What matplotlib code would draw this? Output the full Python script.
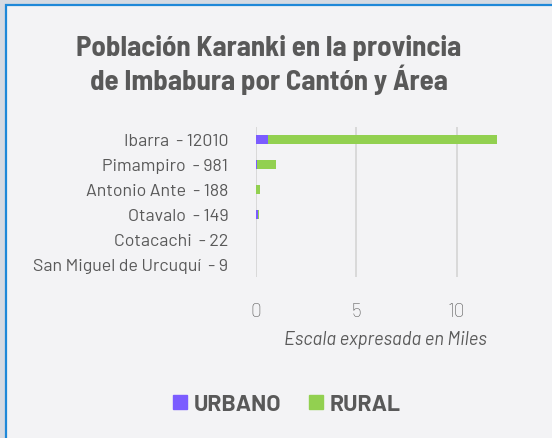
import matplotlib
matplotlib.use('Agg')
import matplotlib.pyplot as plt
from matplotlib.patches import Patch, Rectangle

# Datos (en miles de habitantes)
cantones = ['Ibarra', 'Pimampiro', 'Antonio Ante', 'Otavalo', 'Cotacachi', 'San Miguel de Urcuquí']
totales = [12010, 981, 188, 149, 22, 9]
urbano = [0.62, 0.03, 0.02, 0.08, 0.0, 0.009]
rural = [11.39, 0.951, 0.168, 0.069, 0.022, 0.0]
ticks_x = [0, 5, 10]

c_urb = '#7b5cff'
c_rur = '#92d050'
c_txt = '#595959'

W, H = 552, 439
fig = plt.figure(figsize=(W / 100, H / 100), dpi=100, facecolor='#d5dae2')

# Panel del gráfico con borde azul
fig.patches.append(Rectangle((6 / W, -0.1), 1.2, 1 - 6 / H + 0.1, transform=fig.transFigure,
                             facecolor='#f3f3f5', edgecolor='#1e88d8', linewidth=1.6, zorder=-5))

fig.text(269 / W, 1 - 65 / H, 'Población Karanki en la provincia\nde Imbabura por Cantón y Área',
         ha='center', va='center', fontsize=20.8, fontweight='bold', color=c_txt,
         family='Barlow Semi Condensed', linespacing=1.12)

ax = fig.add_axes([256 / W, 1 - 278 / H, 243 / W, 150 / H])
ax.set_facecolor('none')
y = list(range(len(cantones)))
ax.barh(y, urbano, height=0.38, color=c_urb, label='URBANO', zorder=3)
ax.barh(y, rural, left=urbano, height=0.38, color=c_rur, label='RURAL', zorder=3)
ax.set_xlim(0, 12.1)
ax.set_ylim(len(cantones) - 0.5, -0.5)
ax.set_xticks(ticks_x)
ax.set_xticklabels([str(t) for t in ticks_x], fontsize=14, color=c_txt, family='Barlow', fontweight='light')
ax.set_yticks(y)
ax.set_yticklabels([f'{c}  - {t}' for c, t in zip(cantones, totales)],
                   fontsize=12.8, color=c_txt, family='Barlow')
ax.tick_params(length=0)
ax.tick_params(axis='x', pad=18)
ax.tick_params(axis='y', pad=20)
ax.grid(axis='x', color='#d9d9d9', linewidth=1.4, zorder=0)
for s in ax.spines.values():
    s.set_visible(False)
ax.set_xlabel('Escala expresada en Miles', fontsize=13.2, style='italic', color=c_txt,
              family='Barlow')
ax.xaxis.set_label_coords(385 / W, 1 - 340 / H, transform=fig.transFigure)
ax.xaxis.label.set_va('center')

handles = [Patch(color=c_urb, label='URBANO'), Patch(color=c_rur, label='RURAL')]
fig.legend(handles=handles, loc='center', bbox_to_anchor=(287 / W, 1 - 405 / H), ncol=2,
           frameon=False, handlelength=0.6, handleheight=0.6, handletextpad=0.3,
           columnspacing=1.2, prop={'family': 'Barlow', 'weight': 'bold', 'size': 16.5},
           labelcolor=c_txt)

plt.savefig('out.png', dpi=100, facecolor=fig.get_facecolor())
